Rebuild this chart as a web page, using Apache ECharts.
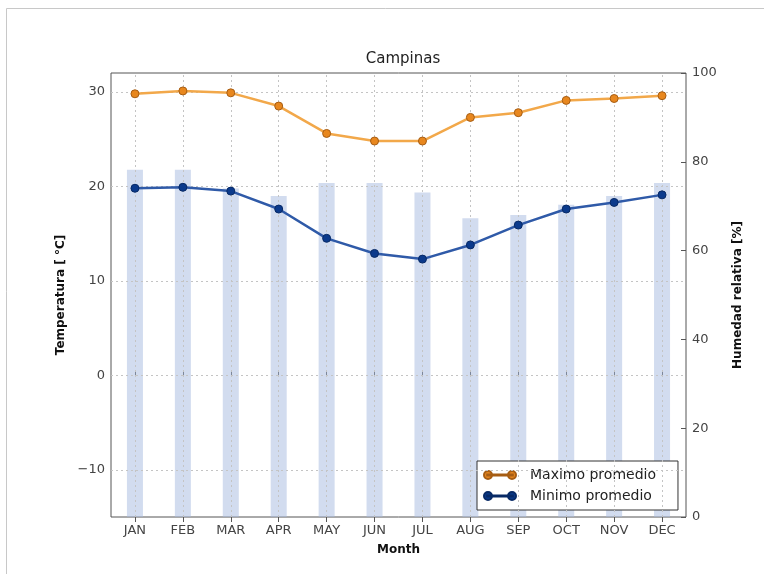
<!DOCTYPE html>
<html>
<head>
<meta charset="utf-8">
<script src="https://cdn.jsdelivr.net/npm/echarts@6/dist/echarts.min.js"></script>
<style>
  html, body { margin: 0; padding: 0; background: #fff; }
  #chart { width: 764px; height: 574px; }
</style>
</head>
<body>
<div id="chart"></div>
<script>
// Monthly climate of Campinas
const months = ['JAN', 'FEB', 'MAR', 'APR', 'MAY', 'JUN', 'JUL', 'AUG', 'SEP', 'OCT', 'NOV', 'DEC'];
const tempMax = [29.8, 30.1, 29.9, 28.5, 25.6, 24.8, 24.8, 27.3, 27.8, 29.1, 29.3, 29.6];
const tempMin = [19.8, 19.9, 19.5, 17.6, 14.5, 12.9, 12.3, 13.8, 15.9, 17.6, 18.3, 19.1];
const humidity = [78.2, 78.2, 74.0, 72.3, 75.2, 75.2, 73.1, 67.3, 68.0, 70.3, 72.3, 75.2];
const tempTicks = [-10, 0, 10, 20, 30];

const FONT = 'DejaVu Sans';

// legend glyph: a thin line with a dot at each end
const legendIcon = 'path://M4,4.4 L36,4.4 L36,5.6 L4,5.6 Z M0,5 A5,5 0 1,0 10,5 A5,5 0 1,0 0,5 Z M30,5 A5,5 0 1,0 40,5 A5,5 0 1,0 30,5 Z';

const gridLines = tempTicks.map(v => ({ yAxis: v }))
  .concat(months.map(m => ({ xAxis: m })));

const chart = echarts.init(document.getElementById('chart'), null, { renderer: 'canvas' });

chart.setOption({
  animation: false,
  backgroundColor: '#fff',
  textStyle: { fontFamily: FONT },
  graphic: [{
    type: 'rect',
    shape: { x: 6.5, y: 8.5, width: 900, height: 700 },
    style: { fill: 'none', stroke: '#c8c8c8', lineWidth: 1 },
    silent: true,
    z: -10
  }],
  title: {
    text: 'Campinas',
    left: 398,
    textAlign: 'center',
    top: 47,
    textStyle: { fontFamily: FONT, fontSize: 15, fontWeight: 'normal', color: '#222' }
  },
  legend: {
    data: ['Maximo promedio', 'Minimo promedio'],
    orient: 'vertical',
    left: 477,
    top: 461,
    icon: legendIcon,
    itemWidth: 32,
    itemHeight: 9,
    itemGap: 7,
    padding: [7, 22, 7, 6],
    borderColor: '#333',
    borderWidth: 1,
    backgroundColor: '#fff',
    textStyle: { fontFamily: FONT, fontSize: 14, color: '#222', padding: [0, 0, 0, 9] }
  },
  grid: {
    left: 111,
    right: 78,
    top: 73,
    bottom: 57,
    show: true,
    borderColor: '#555',
    borderWidth: 1,
    backgroundColor: 'transparent'
  },
  xAxis: [{
    type: 'category',
    data: months,
    boundaryGap: true,
    name: 'Month',
    nameLocation: 'middle',
    nameGap: 27,
    nameTextStyle: { fontFamily: FONT, fontSize: 12, fontWeight: 'bold', color: '#111' },
    axisLine: { show: false },
    axisTick: { show: true, inside: true, alignWithLabel: true, length: 5, lineStyle: { color: '#555' } },
    axisLabel: { fontFamily: FONT, fontSize: 13, color: '#444', margin: 7 },
    splitLine: { show: false }
  }, {
    type: 'category',
    data: months,
    position: 'top',
    boundaryGap: true,
    axisLine: { show: false },
    axisTick: { show: true, inside: true, alignWithLabel: true, length: 5, lineStyle: { color: '#555' } },
    axisLabel: { show: false },
    splitLine: { show: false }
  }],
  yAxis: [{
    type: 'value',
    min: -15,
    max: 32,
    interval: 5,
    position: 'left',
    name: 'Temperatura [ °C]',
    nameLocation: 'middle',
    nameRotate: 90,
    nameGap: 44,
    nameTextStyle: { fontFamily: FONT, fontSize: 12, fontWeight: 'bold', color: '#111' },
    axisLine: { show: false },
    axisTick: { show: false },
    axisLabel: {
      fontFamily: FONT, fontSize: 13, color: '#444', margin: 6,
      formatter: v => (v % 10 === 0 ? (v < 0 ? '\u2212' + Math.abs(v) : String(v)) : '')
    },
    splitLine: { show: false }
  }, {
    type: 'value',
    min: 0,
    max: 100,
    interval: 20,
    position: 'right',
    name: 'Humedad relativa [%]',
    nameLocation: 'middle',
    nameRotate: 90,
    nameGap: 46,
    nameTextStyle: { fontFamily: FONT, fontSize: 12, fontWeight: 'bold', color: '#111' },
    axisLine: { show: false },
    axisTick: { show: true, inside: true, length: 5, lineStyle: { color: '#555' } },
    axisLabel: { fontFamily: FONT, fontSize: 13, color: '#444', margin: 6 },
    splitLine: { show: false }
  }],
  series: [
    {
      // dotted grid at temperature ticks and month positions
      name: 'grid',
      type: 'line',
      xAxisIndex: 0,
      yAxisIndex: 0,
      data: [],
      silent: true,
      z: 1,
      markLine: {
        silent: true,
        symbol: 'none',
        label: { show: false },
        lineStyle: { type: [2, 3], color: '#c4c4c4', width: 1 },
        data: gridLines
      }
    },
    {
      name: 'Humedad relativa',
      type: 'bar',
      xAxisIndex: 0,
      yAxisIndex: 1,
      data: humidity,
      barWidth: 16,
      itemStyle: { color: 'rgba(165,185,224,0.5)' },
      z: 2
    },
    {
      name: 'Maximo promedio',
      type: 'line',
      xAxisIndex: 0,
      yAxisIndex: 0,
      data: tempMax,
      symbol: 'circle',
      symbolSize: 8,
      lineStyle: { color: '#f2a84a', width: 2.5 },
      itemStyle: { color: '#e8871e', borderColor: '#a65d14', borderWidth: 1 },
      z: 5
    },
    {
      name: 'Minimo promedio',
      type: 'line',
      xAxisIndex: 0,
      yAxisIndex: 0,
      data: tempMin,
      symbol: 'circle',
      symbolSize: 8,
      lineStyle: { color: '#2f5aa8', width: 2.5 },
      itemStyle: { color: '#0b3a8c', borderColor: '#082a66', borderWidth: 1 },
      z: 5
    }
  ]
});
</script>
</body>
</html>
